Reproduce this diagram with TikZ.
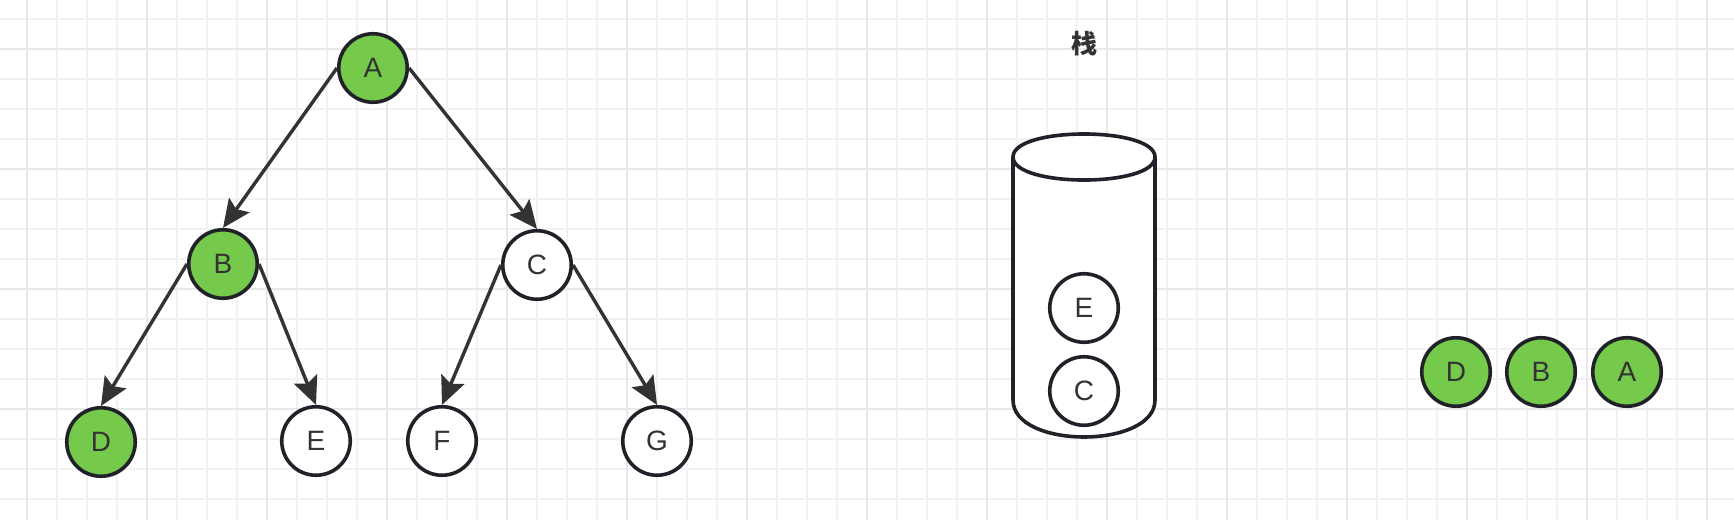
\documentclass[tikz,border=0pt]{standalone}
\usepackage{fontspec}
\setmainfont{Liberation Sans}
\newfontfamily\cjk{Noto Sans CJK SC}
\usetikzlibrary{arrows.meta,positioning}
\definecolor{leafgreen}{HTML}{75C94B}
\definecolor{inkdark}{HTML}{1F2329}
\definecolor{edgegray}{HTML}{333333}
\definecolor{gridminor}{HTML}{F2F2F2}
\definecolor{gridmajor}{HTML}{E8E8E8}

\tikzset{
	treenode/.style={circle, draw=inkdark, line width=3.6pt, fill=white, minimum size=68.5pt, inner sep=0pt, text=edgegray, font=\fontsize{28}{28}\selectfont},
	visited/.style={treenode, fill=leafgreen},
	treeedge/.style={draw=edgegray, line width=3.4pt, -{Stealth[length=28pt, width=25pt, inset=5pt]}},
	gridline/.style={draw=gridminor, line width=1.3pt},
	majorline/.style={draw=gridmajor, line width=1.3pt}
}

\begin{document}
\begin{tikzpicture}[x=1pt, y=-1pt]
		\useasboundingbox[fill=white] (0,0) rectangle (1734,520);
		
		% paper grid
		\foreach \gx in {27,57,...,1734} \draw[gridline] (\gx,0) -- (\gx,520);
		\foreach \gy in {19,49,...,520} \draw[gridline] (0,\gy) -- (1734,\gy);
		\foreach \gx in {27,147,...,1734} \draw[majorline] (\gx,0) -- (\gx,520);
		\foreach \gy in {49,169,...,520} \draw[majorline] (0,\gy) -- (1734,\gy);
		
		% the tree
		\node[visited] (A) at (373,68) {A};
		\node[visited] (B) at (223,264) {B};
		\node[treenode] (C) at (537,265) {C};
		\node[visited] (D) at (101,442) {D};
		\node[treenode] (E) at (316,441) {E};
		\node[treenode] (F) at (442,441) {F};
		\node[treenode] (G) at (657,441) {G};
		
		\draw[treeedge] (A.west) -- (B.north);
		\draw[treeedge] (A.east) -- (C.north);
		\draw[treeedge] (B.west) -- (D.north);
		\draw[treeedge] (B.east) -- (E.north);
		\draw[treeedge] (C.west) -- (F.north);
		\draw[treeedge] (C.east) -- (G.north);
		
		% the stack
		\node[text=edgegray, font=\cjk\bfseries\fontsize{26}{26}\selectfont] (stacklabel) at (1084,44) {栈};
		\draw[draw=inkdark, line width=3.6pt, fill=white] (1013,157) .. controls (1013,126.3) and (1155,126.3) .. (1155,157) -- (1155,400) .. controls (1155,449.3) and (1013,449.3) .. (1013,400) -- cycle;
		\draw[draw=inkdark, line width=3.6pt] (1013,157) .. controls (1013,187.7) and (1155,187.7) .. (1155,157);
		\node[treenode] (stackE) at (1084,308) {E};
		\node[treenode] (stackC) at (1084,391) {C};
		
		% visited order
		\node[visited] (outD) at (1456,372) {D};
		\node[visited] (outB) at (1541,372) {B};
		\node[visited] (outA) at (1627,372) {A};
	\end{tikzpicture}
\end{document}
